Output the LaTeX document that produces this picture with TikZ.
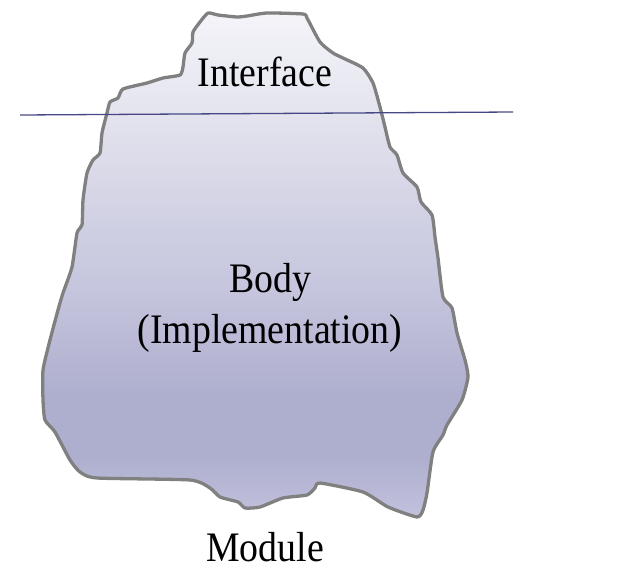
\documentclass[tikz,border=0pt]{standalone}
\usepackage{fontspec}
\setmainfont[FakeStretch=0.9]{Liberation Serif}
\definecolor{bergT}{RGB}{244,244,249}
\definecolor{bergT2}{RGB}{228,228,239}
\definecolor{bergL}{RGB}{213,213,230}
\definecolor{bergM}{RGB}{196,196,221}
\definecolor{bergB}{RGB}{174,174,206}
\definecolor{bergC}{RGB}{184,184,214}
\definecolor{bergD}{RGB}{194,194,222}
\definecolor{waterline}{RGB}{72,72,135}
\definecolor{rim}{RGB}{128,128,128}
\pgfdeclareverticalshading{berg}{100bp}{
  color(0bp)=(bergD);
  color(25bp)=(bergD);
  color(28bp)=(bergC);
  color(31bp)=(bergB);
  color(37bp)=(bergB);
  color(47bp)=(bergM);
  color(57bp)=(bergL);
  color(65bp)=(bergT2);
  color(75bp)=(bergT);
  color(100bp)=(bergT)}
\tikzset{
  lbl/.style={font=\fontsize{42}{50}\selectfont, text=black, anchor=base, inner sep=0pt},
  berg/.style={draw=rim, line width=3.3pt, line join=round, shading=berg},
  sea/.style={draw=waterline, line width=1.3pt}
}
\begin{document}
\begin{tikzpicture}[x=1pt,y=-1pt]
\useasboundingbox (0,0) rectangle (641,571);
\path[berg] plot[smooth cycle, tension=0.35] coordinates {
 (208,13) (218,15) (237,17) (247,16) (267,13) (303,14) (307,18) (320,42)
 (333,53) (343,58) (363,68) (373,83) (380,107) (385,127) (390,147) (397,155)
 (403,173) (417,187) (421,202) (432,215) (435,237) (438,258) (443,297)
 (452,308) (457,333) (465,360) (468,377) (462,400) (447,425) (443,435)
 (433,452) (427,493) (423,510) (417,517) (388,507) (363,492) (320,483)
 (315,488) (307,495) (283,498) (260,507) (245,508) (238,502) (220,497)
 (210,488) (190,480) (97,478) (80,472) (70,460) (55,432) (45,420) (43,400)
 (43,370) (50,340) (58,310) (63,293) (72,267) (77,233) (82,225) (83,200)
 (87,173) (93,160) (100,153) (102,133) (107,113) (110,102) (118,98) (123,89)
 (147,83) (163,78) (180,75) (183,67) (185,53) (192,43) (193,32) (200,22)};
\coordinate (wl) at (20,115);
\coordinate (wr) at (513,112);
\draw[sea] (wl) -- (wr);
\node[lbl] (iface) at (265,86) {Interface};
\node[lbl] (body) at (270,292) {Body};
\node[lbl] (impl) at (270,343) {(Implementation)};
\node[lbl] (module) at (265,561) {Module};
\end{tikzpicture}
\end{document}
